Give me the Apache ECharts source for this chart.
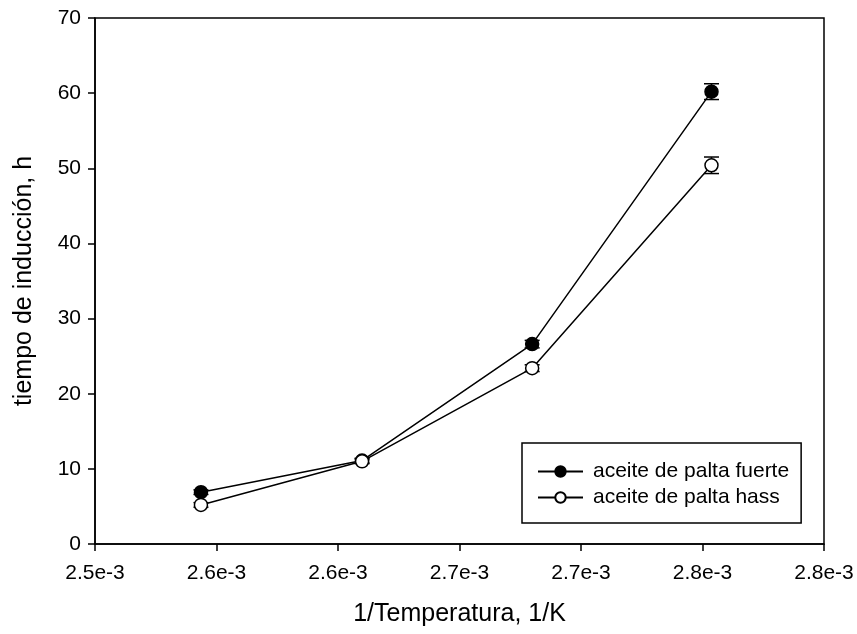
<!DOCTYPE html>
<html>
<head>
<meta charset="utf-8">
<script src="https://cdn.jsdelivr.net/npm/echarts@6/dist/echarts.min.js"></script>
<style>
  html, body { margin: 0; padding: 0; background: #fff; }
  #chart { width: 857px; height: 634px; }
</style>
</head>
<body>
<div id="chart"></div>
<script>
  // 1/T for 120, 110, 100 and 90 C
  const invTemp = [0.0025436, 0.0026099, 0.0026799, 0.0027537];
  const fuerte = [6.9, 11.1, 26.6, 60.2];
  const hass = [5.2, 11.0, 23.4, 50.4];
  const errFuerte = [0.3, 0.3, 0.5, 1.05];
  const errHass = [0.3, 0.3, 0.45, 1.1];
  const xTickLabels = ['2.5e-3', '2.6e-3', '2.6e-3', '2.7e-3', '2.7e-3', '2.8e-3', '2.8e-3'];
  const seriesNames = ['aceite de palta fuerte', 'aceite de palta hass'];

  const font = 'Liberation Sans, Arial, sans-serif';

  function pairs(ys) {
    return invTemp.map((x, i) => [x, ys[i]]);
  }

  function errData(ys, errs) {
    return invTemp.map((x, i) => [x, ys[i] - errs[i], ys[i] + errs[i]]);
  }

  function errRender(params, api) {
    const lo = api.coord([api.value(0), api.value(1)]);
    const hi = api.coord([api.value(0), api.value(2)]);
    const w = 7.5;
    const style = { stroke: '#000', lineWidth: 1.5 };
    return {
      type: 'group',
      children: [
        { type: 'line', shape: { x1: lo[0], y1: lo[1], x2: hi[0], y2: hi[1] }, style: style },
        { type: 'line', shape: { x1: lo[0] - w, y1: lo[1], x2: lo[0] + w, y2: lo[1] }, style: style },
        { type: 'line', shape: { x1: hi[0] - w, y1: hi[1], x2: hi[0] + w, y2: hi[1] }, style: style }
      ]
    };
  }

  const chart = echarts.init(document.getElementById('chart'));
  chart.setOption({
    animation: false,
    backgroundColor: '#fff',
    grid: {
      left: 95, right: 33, top: 18, bottom: 90,
      show: true, borderColor: '#000', borderWidth: 1.5, backgroundColor: 'transparent'
    },
    legend: {
      data: seriesNames,
      orient: 'vertical',
      left: 522,
      top: 443,
      padding: [18, 12, 15, 15],
      itemGap: 5,
      itemWidth: 45,
      itemHeight: 13,
      borderColor: '#000',
      borderWidth: 1.5,
      backgroundColor: '#fff',
      textStyle: { fontFamily: font, fontSize: 21, color: '#000', padding: [0, 0, 0, 5] }
    },
    xAxis: {
      type: 'value',
      min: 0.0025,
      max: 0.0028,
      interval: 0.00005,
      name: '1/Temperatura, 1/K',
      nameLocation: 'middle',
      nameGap: 58,
      nameTextStyle: { fontFamily: font, fontSize: 25, color: '#000' },
      axisLine: { lineStyle: { color: '#000', width: 1.5 } },
      axisTick: { inside: false, length: 7, lineStyle: { color: '#000', width: 1.5 } },
      axisLabel: {
        fontFamily: font, fontSize: 21, color: '#000', margin: 19,
        formatter: v => xTickLabels[Math.round((v - 0.0025) / 0.00005)]
      },
      splitLine: { show: false }
    },
    yAxis: {
      type: 'value',
      min: 0,
      max: 70,
      interval: 10,
      name: 'tiempo de inducción, h',
      nameLocation: 'middle',
      nameGap: 58,
      nameTextStyle: { fontFamily: font, fontSize: 25, color: '#000' },
      axisLine: { lineStyle: { color: '#000', width: 1.5 } },
      axisTick: { inside: false, length: 7, lineStyle: { color: '#000', width: 1.5 } },
      axisLabel: { fontFamily: font, fontSize: 21, color: '#000', margin: 14 },
      splitLine: { show: false }
    },
    series: [
      {
        type: 'custom',
        renderItem: errRender,
        data: errData(fuerte, errFuerte),
        encode: { x: 0, y: [1, 2] },
        z: 1
      },
      {
        type: 'custom',
        renderItem: errRender,
        data: errData(hass, errHass),
        encode: { x: 0, y: [1, 2] },
        z: 1
      },
      {
        name: seriesNames[0],
        type: 'line',
        data: pairs(fuerte),
        symbol: 'circle',
        symbolSize: 13,
        lineStyle: { color: '#000', width: 1.5 },
        itemStyle: { color: '#000', borderColor: '#000', borderWidth: 1.5 },
        z: 3
      },
      {
        name: seriesNames[1],
        type: 'line',
        data: pairs(hass),
        symbol: 'circle',
        symbolSize: 13,
        lineStyle: { color: '#000', width: 1.5 },
        itemStyle: { color: '#fff', borderColor: '#000', borderWidth: 1.5 },
        z: 3
      }
    ]
  });
</script>
</body>
</html>
